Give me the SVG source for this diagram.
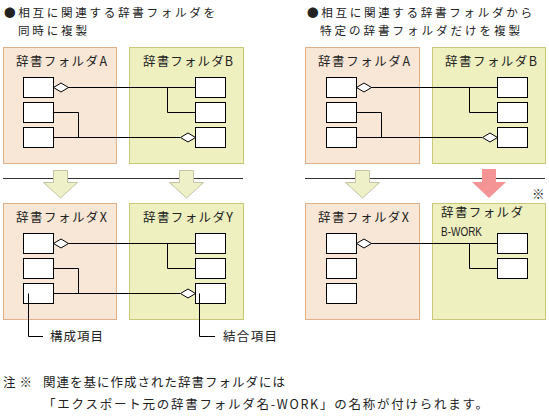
<svg xmlns="http://www.w3.org/2000/svg" width="549" height="420" viewBox="0 0 549 420">
<style>
text{font-family:"Noto Sans CJK JP","Liberation Sans",sans-serif;font-size:12.5px;fill:#222}
.t{font-size:11.6px}
.mono{font-family:"Liberation Sans","DejaVu Sans",sans-serif;font-size:12.5px}
.fa{fill:#f8e6d6;stroke:#e0b08a;stroke-width:1}
.fb{fill:#eff0c0;stroke:#c8c878;stroke-width:1}
.bx{fill:#fff;stroke:#000;stroke-width:1}
.ln{fill:none;stroke:#000;stroke-width:1}
.dm{fill:#fff;stroke:#000;stroke-width:1}
.sep{stroke:#333;stroke-width:1.2}
.ay{fill:#eef0c8;stroke:#c4c4a4;stroke-width:1}
.ar{fill:#f49494;stroke:none}
</style>
<g id="titles">
<text class="t" x="4" y="17" textLength="211" lengthAdjust="spacing">●相互に関連する辞書フォルダを</text>
<text class="t" x="18" y="34.5" textLength="69" lengthAdjust="spacing">同時に複製</text>
<text class="t" x="307" y="17" textLength="225" lengthAdjust="spacing">●相互に関連する辞書フォルダから</text>
<text class="t" x="320" y="34.5" textLength="200" lengthAdjust="spacing">特定の辞書フォルダだけを複製</text>
</g>
<g id="separators">
<line class="sep" x1="3" y1="178.5" x2="243" y2="178.5"/>
<line class="sep" x1="305" y1="178.5" x2="545" y2="178.5"/>
</g>
<g id="arrows">
<polygon class="ay" points="53.5,170.5 67.5,170.5 67.5,182.5 77.5,182.5 60.5,198 43.5,182.5 53.5,182.5"/>
<polygon class="ay" points="179.5,170.5 193.5,170.5 193.5,182.5 203.5,182.5 186.5,198 169.5,182.5 179.5,182.5"/>
<polygon class="ay" points="355.5,170.5 369.5,170.5 369.5,182.5 379.5,182.5 362.5,198 345.5,182.5 355.5,182.5"/>
<polygon class="ar" points="482,169 496,169 496,182 506,182 489,198 472,182 482,182"/>
</g>
<g id="folderA1">
<rect class="fa" x="3.5" y="47.5" width="113" height="116"/>
<text x="16" y="66" textLength="91" lengthAdjust="spacing">辞書フォルダA</text>
<rect class="bx" x="23.5" y="77.5" width="30" height="20"/>
<rect class="bx" x="23.5" y="102.5" width="30" height="20"/>
<rect class="bx" x="23.5" y="127.5" width="30" height="20"/>
</g>
<g id="folderB1">
<rect class="fb" x="129.5" y="47.5" width="114" height="116"/>
<text x="143" y="66" textLength="90" lengthAdjust="spacing">辞書フォルダB</text>
<rect class="bx" x="195.5" y="77.5" width="30" height="20"/>
<rect class="bx" x="195.5" y="102.5" width="30" height="20"/>
<rect class="bx" x="195.5" y="127.5" width="30" height="20"/>
</g>
<g id="folderX1">
<rect class="fa" x="3.5" y="203.5" width="113" height="116"/>
<text x="16" y="222" textLength="91" lengthAdjust="spacing">辞書フォルダX</text>
<rect class="bx" x="23.5" y="233.5" width="30" height="20"/>
<rect class="bx" x="23.5" y="258.5" width="30" height="20"/>
<rect class="bx" x="23.5" y="283.5" width="30" height="20"/>
</g>
<g id="folderY1">
<rect class="fb" x="129.5" y="203.5" width="114" height="116"/>
<text x="143" y="222" textLength="90" lengthAdjust="spacing">辞書フォルダY</text>
<rect class="bx" x="195.5" y="233.5" width="30" height="20"/>
<rect class="bx" x="195.5" y="258.5" width="30" height="20"/>
<rect class="bx" x="195.5" y="283.5" width="30" height="20"/>
</g>
<g id="folderA2">
<rect class="fa" x="305.5" y="47.5" width="114" height="116"/>
<text x="318" y="66" textLength="92" lengthAdjust="spacing">辞書フォルダA</text>
<rect class="bx" x="326.5" y="77.5" width="30" height="20"/>
<rect class="bx" x="326.5" y="102.5" width="30" height="20"/>
<rect class="bx" x="326.5" y="127.5" width="30" height="20"/>
</g>
<g id="folderB2">
<rect class="fb" x="432.5" y="47.5" width="113" height="116"/>
<text x="445" y="66" textLength="92" lengthAdjust="spacing">辞書フォルダB</text>
<rect class="bx" x="497.5" y="77.5" width="30" height="20"/>
<rect class="bx" x="497.5" y="102.5" width="30" height="20"/>
<rect class="bx" x="497.5" y="127.5" width="30" height="20"/>
</g>
<g id="folderX2">
<rect class="fa" x="305.5" y="203.5" width="114" height="116"/>
<text x="318" y="222" textLength="91" lengthAdjust="spacing">辞書フォルダX</text>
<rect class="bx" x="326.5" y="233.5" width="30" height="20"/>
<rect class="bx" x="326.5" y="258.5" width="30" height="20"/>
<rect class="bx" x="326.5" y="283.5" width="30" height="20"/>
</g>
<g id="folderBWORK">
<rect class="fb" x="432.5" y="203.5" width="113" height="116"/>
<text x="441" y="217" textLength="82" lengthAdjust="spacing">辞書フォルダ</text>
<text class="mono" x="441" y="235.5" textLength="41" lengthAdjust="spacingAndGlyphs">B-WORK</text>
<rect class="bx" x="497.5" y="233.5" width="30" height="20"/>
<rect class="bx" x="497.5" y="258.5" width="30" height="20"/>
</g>
<g id="connectors">
<polyline class="ln" points="68,87.5 195.5,87.5"/>
<polyline class="ln" points="167.5,87.5 167.5,112.5 195.5,112.5"/>
<polyline class="ln" points="53.5,112.5 78.5,112.5 78.5,137.5"/>
<polyline class="ln" points="53.5,137.5 180,137.5"/>
<polygon class="dm" points="53.5,87.5 61,83 68.5,87.5 61,92"/>
<polygon class="dm" points="180.5,137.5 188,133 195.5,137.5 188,142"/>
<polyline class="ln" points="68,243.5 195.5,243.5"/>
<polyline class="ln" points="167.5,243.5 167.5,268.5 195.5,268.5"/>
<polyline class="ln" points="53.5,268.5 78.5,268.5 78.5,293.5"/>
<polyline class="ln" points="53.5,293.5 180,293.5"/>
<polygon class="dm" points="53.5,243.5 61,239 68.5,243.5 61,248"/>
<polygon class="dm" points="180.5,293.5 188,289 195.5,293.5 188,298"/>
<polyline class="ln" points="371,87.5 497.5,87.5"/>
<polyline class="ln" points="469.5,87.5 469.5,112.5 497.5,112.5"/>
<polyline class="ln" points="356.5,112.5 381.5,112.5 381.5,137.5"/>
<polyline class="ln" points="356.5,137.5 482,137.5"/>
<polygon class="dm" points="356.5,87.5 364,83 371.5,87.5 364,92"/>
<polygon class="dm" points="482.5,137.5 490,133 497.5,137.5 490,142"/>
<polyline class="ln" points="371,243.5 497.5,243.5"/>
<polyline class="ln" points="469.5,243.5 469.5,268.5 497.5,268.5"/>
<polygon class="dm" points="356.5,243.5 364,239 371.5,243.5 364,248"/>
<polyline class="ln" points="28.5,293.5 28.5,336.5 43,336.5"/>
<polyline class="ln" points="199.5,293.5 199.5,336.5 215,336.5"/>
</g>
<g id="labels">
<text x="50" y="341" textLength="53" lengthAdjust="spacing">構成項目</text>
<text x="223" y="341" textLength="54" lengthAdjust="spacing">結合項目</text>
<text x="532" y="199" font-size="13">※</text>
</g>
<g id="note">
<text x="3" y="387" textLength="29" lengthAdjust="spacing">注※</text>
<text x="43" y="387" textLength="242" lengthAdjust="spacing">関連を基に作成された辞書フォルダには</text>
<text x="43" y="409" textLength="445" lengthAdjust="spacing">「エクスポート元の辞書フォルダ名-WORK」の名称が付けられます。</text>
</g>
</svg>
